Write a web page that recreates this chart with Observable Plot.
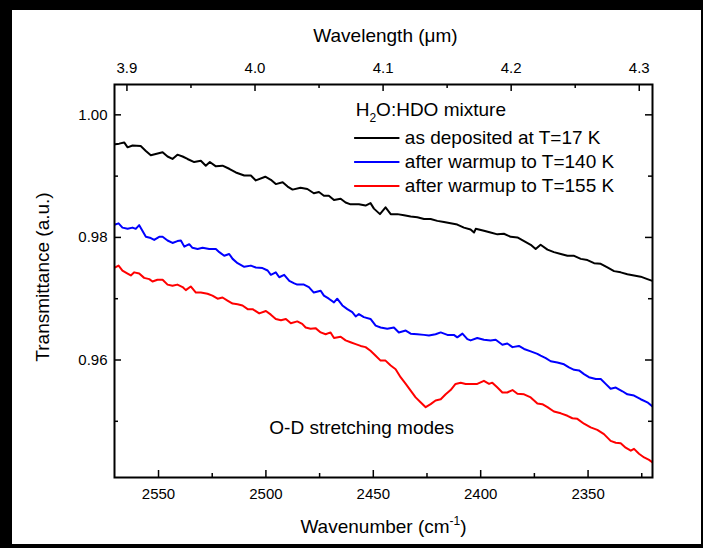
<!DOCTYPE html>
<html><head><meta charset="utf-8">
<script src="https://cdn.jsdelivr.net/npm/d3@7"></script>
<script src="https://cdn.jsdelivr.net/npm/@observablehq/plot@0.6"></script>
<style>
html,body{margin:0;padding:0;background:#000;}
#wrap{position:absolute;left:12px;top:10px;width:689px;height:534px;background:#fff;}
#wrap svg{display:block;}
</style></head><body><div id="wrap"></div>
<script>
// ---- data (wavenumber cm-1, transmittance) ----
const blackWn = [2570.2,2568.3,2566.0,2564.4,2562.1,2558.3,2555.9,2553.6,2551.3,2548.1,2545.8,2543.5,2541.2,2538.8,2536.5,2533.4,2530.3,2528.0,2526.1,2523.3,2520.2,2517.1,2514.0,2510.1,2507.0,2504.7,2500.3,2497.7,2495.4,2492.2,2489.9,2487.6,2483.9,2480.7,2477.7,2475.3,2473.0,2470.7,2468.3,2465.2,2462.9,2460.6,2456.7,2453.6,2451.3,2449.7,2446.9,2444.3,2441.9,2438.8,2435.7,2432.6,2429.5,2426.4,2423.3,2420.2,2417.1,2414.0,2410.9,2407.8,2404.7,2403.1,2402.3,2398.5,2395.4,2392.2,2389.2,2386.0,2382.9,2379.8,2376.7,2374.4,2372.1,2368.9,2365.9,2362.7,2359.6,2356.5,2353.4,2350.3,2347.2,2344.1,2341.0,2337.9,2334.8,2331.7,2328.6,2325.5,2322.4,2320.0];
const blackT = [0.9952,0.9953,0.9955,0.9947,0.9950,0.9949,0.9941,0.9934,0.9936,0.9939,0.9932,0.9928,0.9935,0.9932,0.9928,0.9923,0.9925,0.9917,0.9923,0.9916,0.9917,0.9912,0.9906,0.9901,0.9901,0.9893,0.9899,0.9894,0.9887,0.9890,0.9883,0.9878,0.9881,0.9879,0.9872,0.9874,0.9868,0.9868,0.9861,0.9863,0.9857,0.9854,0.9854,0.9852,0.9856,0.9847,0.9838,0.9849,0.9838,0.9838,0.9836,0.9834,0.9833,0.9830,0.9830,0.9827,0.9825,0.9823,0.9821,0.9816,0.9813,0.9808,0.9814,0.9811,0.9808,0.9805,0.9806,0.9801,0.9800,0.9794,0.9788,0.9781,0.9788,0.9780,0.9776,0.9773,0.9770,0.9770,0.9765,0.9763,0.9758,0.9757,0.9751,0.9745,0.9743,0.9740,0.9738,0.9736,0.9732,0.9729];

const blueWn = [2570.2,2568.6,2566.8,2564.4,2562.1,2560.6,2559.0,2557.5,2555.9,2553.6,2552.0,2549.7,2548.1,2545.8,2543.5,2541.2,2539.6,2538.0,2535.7,2534.2,2531.8,2529.5,2526.4,2523.3,2521.7,2519.4,2517.1,2515.5,2513.2,2510.1,2507.0,2504.7,2501.6,2499.2,2497.7,2495.4,2493.8,2491.5,2489.1,2486.8,2485.4,2482.3,2480.0,2477.7,2474.5,2473.0,2470.7,2468.3,2466.8,2464.4,2462.1,2459.8,2458.2,2456.7,2454.4,2451.3,2448.9,2446.6,2443.5,2440.4,2438.1,2434.9,2432.6,2429.5,2426.4,2424.1,2421.0,2418.6,2415.5,2412.5,2410.9,2408.5,2406.2,2404.7,2401.6,2398.5,2395.4,2393.0,2389.9,2387.6,2385.2,2382.2,2379.8,2376.7,2373.6,2372.1,2369.7,2367.4,2364.3,2361.2,2358.9,2356.5,2354.2,2351.9,2349.6,2346.4,2344.1,2341.8,2339.5,2337.1,2334.0,2331.7,2328.6,2325.5,2322.4,2320.0];
const blueT = [0.9821,0.9823,0.9816,0.9814,0.9816,0.9814,0.9820,0.9811,0.9801,0.9799,0.9796,0.9801,0.9801,0.9795,0.9791,0.9794,0.9795,0.9785,0.9789,0.9783,0.9781,0.9783,0.9781,0.9781,0.9776,0.9770,0.9773,0.9765,0.9758,0.9752,0.9754,0.9751,0.9750,0.9746,0.9739,0.9743,0.9735,0.9739,0.9729,0.9725,0.9723,0.9723,0.9719,0.9710,0.9713,0.9705,0.9700,0.9694,0.9700,0.9689,0.9683,0.9678,0.9671,0.9675,0.9670,0.9667,0.9656,0.9653,0.9651,0.9653,0.9645,0.9648,0.9643,0.9642,0.9641,0.9640,0.9642,0.9645,0.9641,0.9641,0.9637,0.9643,0.9634,0.9632,0.9636,0.9633,0.9632,0.9633,0.9625,0.9627,0.9621,0.9623,0.9618,0.9614,0.9610,0.9607,0.9603,0.9598,0.9596,0.9593,0.9588,0.9584,0.9583,0.9577,0.9572,0.9569,0.9569,0.9561,0.9553,0.9555,0.9549,0.9544,0.9542,0.9536,0.9531,0.9524];

const redWn = [2570.2,2568.6,2566.8,2564.4,2562.9,2561.3,2559.0,2556.7,2554.3,2552.8,2550.5,2548.1,2545.8,2543.5,2541.2,2538.8,2537.3,2535.0,2532.6,2530.3,2527.2,2524.9,2522.5,2520.2,2517.9,2515.5,2513.2,2510.9,2508.5,2506.2,2503.1,2500.0,2497.7,2495.4,2493.0,2490.7,2488.4,2485.4,2483.1,2481.5,2479.2,2476.9,2474.5,2472.2,2469.9,2468.3,2465.2,2462.9,2460.6,2458.2,2455.9,2453.6,2451.3,2448.9,2446.6,2444.3,2441.9,2439.6,2437.3,2434.9,2432.6,2430.3,2428.0,2425.6,2423.3,2421.0,2418.6,2416.3,2414.0,2411.7,2409.3,2407.0,2404.7,2401.6,2398.5,2396.1,2394.6,2392.2,2389.9,2387.6,2385.2,2382.9,2379.8,2376.7,2373.6,2371.3,2368.9,2365.9,2362.7,2359.6,2357.3,2355.0,2351.9,2348.8,2345.7,2342.6,2339.5,2337.1,2334.8,2332.5,2330.1,2328.6,2326.3,2323.9,2321.6,2320.0];
const redT = [0.9751,0.9754,0.9746,0.9741,0.9738,0.9743,0.9741,0.9734,0.9732,0.9728,0.9731,0.9731,0.9723,0.9721,0.9723,0.9719,0.9714,0.9720,0.9710,0.9710,0.9708,0.9705,0.9700,0.9702,0.9697,0.9692,0.9691,0.9689,0.9683,0.9683,0.9676,0.9680,0.9674,0.9667,0.9665,0.9667,0.9660,0.9663,0.9659,0.9653,0.9651,0.9652,0.9645,0.9642,0.9645,0.9636,0.9638,0.9632,0.9629,0.9626,0.9623,0.9621,0.9615,0.9607,0.9599,0.9599,0.9591,0.9585,0.9572,0.9561,0.9550,0.9539,0.9531,0.9523,0.9528,0.9534,0.9536,0.9544,0.9551,0.9561,0.9563,0.9561,0.9561,0.9561,0.9566,0.9561,0.9563,0.9555,0.9547,0.9547,0.9551,0.9545,0.9544,0.9539,0.9529,0.9528,0.9523,0.9516,0.9513,0.9509,0.9505,0.9504,0.9496,0.9490,0.9486,0.9479,0.9468,0.9465,0.9464,0.9457,0.9452,0.9455,0.9447,0.9441,0.9437,0.9433];

const seriesLabels = ["as deposited at T=17 K","after warmup to T=140 K","after warmup to T=155 K"];
const seriesColors = ["#000000","#0000ff","#ff0000"];

// ---- ticks ----
const xMajor = [2550,2500,2450,2400,2350];
const xMinor = [2525,2475,2425,2375,2325];
const lamMajor = [3.9,4.0,4.1,4.2,4.3];
const lamMinor = [3.95,4.05,4.15,4.25];
const yMajor = [0.96,0.98,1.00];
const yMinor = [0.95,0.97,0.99];

// ---- layout ----
const W=689,H=534,mL=102,mR=49,mT=74,mB=67;
const FW=W-mL-mR, FH=H-mT-mB;
const xDomain=[2570.5,2320.0];
const yDomain=[0.94083,1.00495];
// top wavelength axis: linear between the reciprocal end points (as in the original)
const lamL=1e4/xDomain[0], lamR=1e4/xDomain[1];
const lamToWn = l => xDomain[0] + (l-lamL)*(xDomain[1]-xDomain[0])/(lamR-lamL);
const wnToLam = w => lamL + (w-xDomain[0])*(lamR-lamL)/(xDomain[1]-xDomain[0]);

// annotation anchors (data units)
const legTitlePos = {x:2458.2, y:0.99989};
const legX1=2458.7, legX2=2437.6, legTextX=2435.3;
const legY=[0.99621,0.99229,0.98837];
const notePos = {x:2455.4, y:0.94792};

const toRows = (wn,t) => wn.map((w,i)=>({wn:w, t:t[i]}));
const seriesRows = [toRows(blackWn,blackT), toRows(blueWn,blueT), toRows(redWn,redT)];

const tickStyle = {stroke:"#000", strokeWidth:1.5};
const F = "'Liberation Sans', Arial, sans-serif";

const marks = [
  ...seriesRows.map((rows,i)=>Plot.line(rows,{x:"wn",y:"t",stroke:seriesColors[i],strokeWidth:2,clip:true})),
  Plot.frame({stroke:"#000", strokeWidth:2}),
  // inward ticks
  Plot.tickX(xMajor,{x:d=>d, insetTop:FH-7, ...tickStyle}),
  Plot.tickX(xMinor,{x:d=>d, insetTop:FH-4, ...tickStyle}),
  Plot.tickX(lamMajor.map(lamToWn),{x:d=>d, insetBottom:FH-7, ...tickStyle}),
  Plot.tickX(lamMinor.map(lamToWn),{x:d=>d, insetBottom:FH-4, ...tickStyle}),
  Plot.tickY(yMajor,{y:d=>d, insetRight:FW-7, ...tickStyle}),
  Plot.tickY(yMinor,{y:d=>d, insetRight:FW-4, ...tickStyle}),
  Plot.tickY(yMajor,{y:d=>d, insetLeft:FW-7, ...tickStyle}),
  Plot.tickY(yMinor,{y:d=>d, insetLeft:FW-4, ...tickStyle}),
  // tick labels
  Plot.axisX({anchor:"bottom", ticks:xMajor, tickSize:0, tickPadding:11, tickFormat:d=>String(d), label:null}),
  Plot.axisX({anchor:"top", ticks:lamMajor.map(lamToWn), tickSize:0, tickPadding:12, tickFormat:d=>wnToLam(d).toFixed(1), label:null}),
  Plot.axisY({anchor:"left", ticks:yMajor, tickSize:0, tickPadding:7, tickFormat:d=>d.toFixed(2), label:null}),
  // axis titles
  Plot.text(["Wavelength (μm)"],{frameAnchor:"top", dy:-43, dx:2, lineAnchor:"bottom", fontSize:19}),
  Plot.text(["Wavenumber (cm-1)"],{frameAnchor:"bottom", dy:55, lineAnchor:"bottom", fontSize:19}),
  Plot.text(["Transmittance (a.u.)"],{frameAnchor:"left", dx:-66, dy:-4, rotate:-90, textAnchor:"middle", lineAnchor:"bottom", fontSize:19}),
  // legend
  Plot.text(["H2O:HDO mixture"],{x:legTitlePos.x, y:legTitlePos.y, textAnchor:"start", lineAnchor:"bottom", fontSize:19}),
  ...seriesColors.map((c,i)=>Plot.ruleY([legY[i]],{y:d=>d, x1:legX1, x2:legX2, stroke:c, strokeWidth:2})),
  ...seriesLabels.map((s,i)=>Plot.text([s],{x:legTextX, y:legY[i], textAnchor:"start", lineAnchor:"middle", fontSize:19})),
  Plot.text(["O-D stretching modes"],{x:notePos.x, y:notePos.y, textAnchor:"middle", lineAnchor:"bottom", fontSize:19})
];

const svg = Plot.plot({
  width:W, height:H, marginLeft:mL, marginRight:mR, marginTop:mT, marginBottom:mB,
  style:{fontFamily:F, fontSize:"15px", color:"#000", background:"#fff"},
  x:{domain:xDomain},
  y:{domain:yDomain},
  marks
});

function rich(el, parts){
  const s = d3.select(el); s.text(null);
  let shift = 0;
  parts.forEach(([txt,kind])=>{
    const target = kind==="sub"?6:kind==="sup"?-8:0;
    const t = s.append("tspan").attr("dy", target-shift).text(txt);
    if (kind) t.attr("font-size","12px");
    shift = target;
  });
}
d3.select(svg).selectAll("text").each(function(){
  const t = this.textContent;
  if (t==="H2O:HDO mixture") rich(this,[["H"],["2","sub"],["O:HDO mixture"]]);
  if (t==="Wavenumber (cm-1)") rich(this,[["Wavenumber (cm"],["-1","sup"],[")"]]);
});
document.getElementById("wrap").appendChild(svg);
</script></body></html>
